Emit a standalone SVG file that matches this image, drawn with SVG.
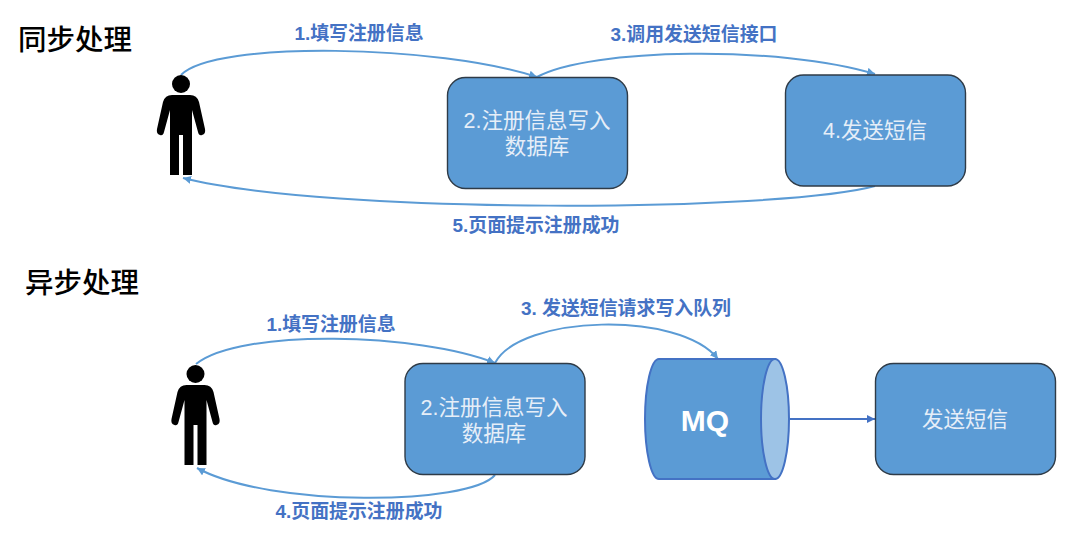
<svg xmlns="http://www.w3.org/2000/svg" width="1080" height="546" viewBox="0 0 1080 546">
<style>
text{font-family:"Liberation Sans","Noto Sans CJK SC",sans-serif;text-anchor:middle}
.title{font-size:28.5px;fill:#000;text-anchor:start;font-weight:500}
.lbl{font-size:18.9px;font-weight:700;fill:#4472c4}
.box{fill:#5b9bd5;stroke:#2f3b47;stroke-width:1.4}
.bt{font-size:21.5px;fill:#e6eef8}
.c{fill:none;stroke:#5b9bd5;stroke-width:2;marker-end:url(#a)}
</style>
<defs>
<marker id="a" markerWidth="10" markerHeight="8" refX="8" refY="4" orient="auto" markerUnits="userSpaceOnUse"><path d="M0,0L8,4L0,8Z" fill="#5b9bd5"/></marker>
<marker id="b" markerWidth="10" markerHeight="8" refX="8" refY="4" orient="auto" markerUnits="userSpaceOnUse"><path d="M0,0L8,4L0,8Z" fill="#4472c4"/></marker>
<g id="person"><circle cx="181" cy="84" r="9"/><path d="M172,95H190Q197,95 199,102L205,129Q206,134 202,135Q199,136 198,132L192,110V175H183V135H179V175H170V110L164,132Q163,136 160,135Q156,134 157,129L163,102Q165,95 172,95Z"/></g>
</defs>
<text class="title" x="18" y="50">同步处理</text>
<text class="title" x="25" y="293">异步处理</text>
<g id="connectors">
<path class="c" d="M181,75C215,40 440,45 537,77"/>
<path class="c" d="M537,77C590,48 780,45 875,74"/>
<path class="c" d="M875,186C780,212 330,215 183,178"/>
<path class="c" d="M196,364C240,328 420,333 495,363"/>
<path class="c" d="M495,363C520,315 680,310 718,359"/>
<path class="c" d="M495,475C470,505 270,508 197,468"/>
<path fill="none" stroke="#4472c4" stroke-width="2" marker-end="url(#b)" d="M790,419H875"/>
</g>
<g id="user-sync"><use href="#person"/></g>
<g id="user-async"><use href="#person" x="14.5" y="290"/></g>
<g id="write-db-sync"><rect class="box" x="447.5" y="77.5" width="180" height="111" rx="18"/><text class="bt" x="537" y="128">2.注册信息写入</text><text class="bt" x="537" y="154">数据库</text></g>
<g id="send-sms-sync"><rect class="box" x="785.5" y="75" width="180" height="111" rx="18"/><text class="bt" x="875" y="138">4.发送短信</text></g>
<g id="write-db-async"><rect class="box" x="405" y="363.5" width="180" height="111" rx="18"/><text class="bt" x="494" y="415">2.注册信息写入</text><text class="bt" x="494" y="441">数据库</text></g>
<g id="mq">
<path d="M659,359H775V479H659A14,60 0 0 1 659,359Z" fill="#5b9bd5" stroke="#4472c4" stroke-width="2"/>
<ellipse cx="775" cy="419" rx="14" ry="60" fill="#9dc3e6" stroke="#4472c4" stroke-width="2"/>
<text x="705" y="431" font-size="30" font-weight="700" fill="#fff">MQ</text>
</g>
<g id="send-sms-async"><rect class="box" x="875.5" y="363.5" width="180" height="111" rx="18"/><text class="bt" x="965" y="427">发送短信</text></g>
<text class="lbl" x="359" y="40">1.填写注册信息</text>
<text class="lbl" x="694" y="41">3.调用发送短信接口</text>
<text class="lbl" x="536" y="232">5.页面提示注册成功</text>
<text class="lbl" x="331" y="331">1.填写注册信息</text>
<text class="lbl" x="626" y="315">3. 发送短信请求写入队列</text>
<text class="lbl" x="359" y="518">4.页面提示注册成功</text>
</svg>
